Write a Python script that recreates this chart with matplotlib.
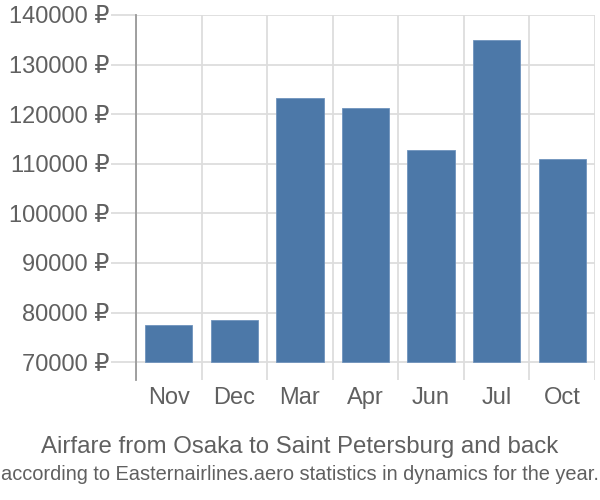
import numpy as np
import matplotlib.pyplot as plt

plt.rcParams['font.family'] = ['Liberation Sans', 'DejaVu Sans']

months = ["Nov", "Dec", "Mar", "Apr", "Jun", "Jul", "Oct"]
prices = [77400, 78450, 123300, 121200, 112750, 135050, 110900]
yticks = [70000, 80000, 90000, 100000, 110000, 120000, 130000, 140000]
base = 70000

text_col = "#606060"
grid_col = "#dddddd"

fig = plt.figure(figsize=(6, 5), dpi=100)
ax = fig.add_axes([0.2267, 0.24, 0.765, 0.73])

x = np.arange(len(months))
ax.bar(x, [p - base for p in prices], width=0.72, bottom=base, color="#4c78a8",
       edgecolor="#6f93bd", linewidth=0.6, zorder=3)

ax.set_xlim(-0.5, len(months) - 0.5)
ax.set_ylim(66400, 140000)

ax.set_yticks(yticks)
ax.set_yticklabels([f"{v} ₽" for v in yticks])
ax.set_xticks(x)
ax.set_xticklabels(months)
ax.set_xticks(np.arange(len(months) + 1) - 0.5, minor=True)

ax.grid(axis="y", color=grid_col, linewidth=1.3, zorder=0)
ax.grid(axis="x", which="minor", color=grid_col, linewidth=1.3, zorder=0)
ax.tick_params(axis="y", length=18, color=grid_col, width=1.3, labelsize=17,
               labelcolor=text_col, pad=1)
ax.tick_params(axis="x", which="major", length=0, labelsize=17,
               labelcolor=text_col, pad=5)
ax.tick_params(axis="x", which="minor", length=0)

for s in ["top", "right", "bottom"]:
    ax.spines[s].set_visible(False)
ax.spines["left"].set_color("#999999")
ax.spines["left"].set_linewidth(1.3)

fig.text(0.5, 0.107, "Airfare from Osaka to Saint Petersburg and back",
         ha="center", va="center", fontsize=17.3, color=text_col)
fig.text(0.5, 0.05, "according to Easternairlines.aero statistics in dynamics for the year.",
         ha="center", va="center", fontsize=14.4, color=text_col)

fig.savefig("out.png", dpi=100)
